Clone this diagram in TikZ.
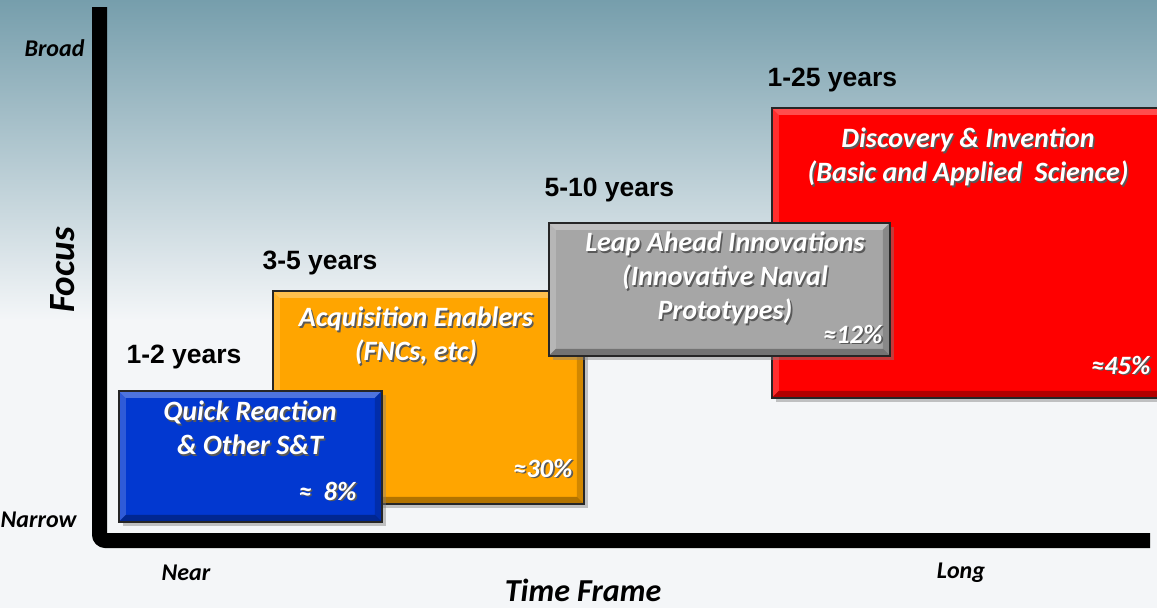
\documentclass[tikz,border=0pt]{standalone}
\usepackage{fontspec}
\setmainfont{Carlito}
\newfontfamily\arialfont{Liberation Sans}
\usepackage{tikz}
\usetikzlibrary{calc}
\usetikzlibrary{shadows}
\definecolor{bgtop}{RGB}{118,158,172}
\definecolor{bgmid}{RGB}{196,220,228}
\definecolor{bgwhite}{RGB}{244,246,248}
\definecolor{quickblue}{RGB}{2,56,208}
\definecolor{acqorange}{RGB}{255,165,0}
\definecolor{leapgray}{RGB}{166,166,166}
\definecolor{discred}{RGB}{255,0,0}
\newcommand{\shtext}[1]{\makebox[0pt][l]{\kern1.6pt\raisebox{-1.6pt}{\color{black!65}#1}}#1}

\begin{document}
\begin{tikzpicture}[
    x=1pt, y=-1pt,
    axis/.style={line width=15pt, rounded corners=6pt},
    box/.style={draw=black!85, line width=1.5pt, anchor=north west, inner sep=0pt,
        drop shadow={shadow xshift=4pt, shadow yshift=-4pt, opacity=0.45},
        path picture={
            \fill[white, opacity=0.30] (path picture bounding box.north west) -- (path picture bounding box.north east)
                -- ([shift={(-7pt,-7pt)}]path picture bounding box.north east) -- ([shift={(7pt,-7pt)}]path picture bounding box.north west) -- cycle;
            \fill[white, opacity=0.18] (path picture bounding box.north west) -- ([shift={(7pt,-7pt)}]path picture bounding box.north west)
                -- ([shift={(7pt,7pt)}]path picture bounding box.south west) -- (path picture bounding box.south west) -- cycle;
            \fill[black, opacity=0.30] (path picture bounding box.south west) -- (path picture bounding box.south east)
                -- ([shift={(-7pt,7pt)}]path picture bounding box.south east) -- ([shift={(7pt,7pt)}]path picture bounding box.south west) -- cycle;
            \fill[black, opacity=0.18] (path picture bounding box.north east) -- ([shift={(-7pt,-7pt)}]path picture bounding box.north east)
                -- ([shift={(-7pt,7pt)}]path picture bounding box.south east) -- (path picture bounding box.south east) -- cycle;
        }},
    boxtext/.style={text=white, font=\fontsize{28}{34}\selectfont\bfseries\itshape, align=center},
    pct/.style={text=white, font=\fontsize{26.5}{30}\selectfont\bfseries\itshape, anchor=east},
    years/.style={font=\fontsize{26.5}{30}\selectfont\arialfont\bfseries, anchor=west},
    axislabel/.style={font=\fontsize{24}{28}\selectfont\bfseries\itshape},
    every node/.style={color=black}
    ]

    % background
    \useasboundingbox (0,0) rectangle (1157,608);
    \shade[top color=bgtop, middle color=bgmid, bottom color=bgwhite] (0,0) rectangle (1157,320);
    \fill[bgwhite] (0,320) rectangle (1157,608);

    % axis
    \coordinate (top) at (99.5,7);
    \coordinate (corner) at (99.5,540.5);
    \coordinate (right) at (1150,540.5);
    \draw[axis] (top) -- (corner) -- (right);
    \node (broad) [axislabel, anchor=east] at (88,48) {Broad};
    \node (narrow) [axislabel, anchor=east] at (80,520) {Narrow};
    \node (focus) [font=\fontsize{37}{40}\selectfont\bfseries\itshape, rotate=90] at (63,270) {Focus};
    \node (near) [axislabel] at (186,573) {Near};
    \node (long) [axislabel] at (961,573) {Long};
    \node (timeframe) [font=\fontsize{32}{36}\selectfont\bfseries\itshape] at (583,590) {Time Frame};

    % boxes
    \node (disc) [box, fill=discred, minimum width=400pt, minimum height=290pt] at (771,107) {};
    \node (acq) [box, fill=acqorange, minimum width=311pt, minimum height=213pt] at (272,290) {};
    \node (leap) [box, fill=leapgray, minimum width=341pt, minimum height=133pt] at (548,222) {};
    \node (quick) [box, fill=quickblue, minimum width=263pt, minimum height=131pt] at (118,390) {};

    % time spans
    \node (quickyrs) [years] at (123,357) {1-2 years};
    \node (acqyrs) [years] at (259,263) {3-5 years};
    \node (leapyrs) [years] at (541,190) {5-10 years};
    \node (discyrs) [years] at (764,80) {1-25 years};

    % box texts
    \node (quicktxt) [boxtext] at (250,429) {\shtext{Quick Reaction}\\ \shtext{\& Other S\&T}};
    \node (quickpct) [pct] at (360,492) {\shtext{≈\ \ 8\%}};
    \node (acqtxt) [boxtext] at (416,337) {\shtext{Acquisition Enablers}\\ \shtext{(FNCs, etc)}};
    \node (acqpct) [pct] at (576,469) {\shtext{≈30\%}};
    \node (leaptxt) [boxtext] at (725,279) {\shtext{Leap Ahead Innovations}\\ \shtext{(Innovative Naval}\\ \shtext{Prototypes)}};
    \node (leappct) [pct] at (886,335) {\shtext{≈12\%}};
    \node (disctxt) [boxtext] at (968,158) {\shtext{Discovery \& Invention}\\ \shtext{(Basic and Applied\ \ Science)}};
    \node (discpct) [pct] at (1154,366) {\shtext{≈45\%}};
\end{tikzpicture}
\end{document}
